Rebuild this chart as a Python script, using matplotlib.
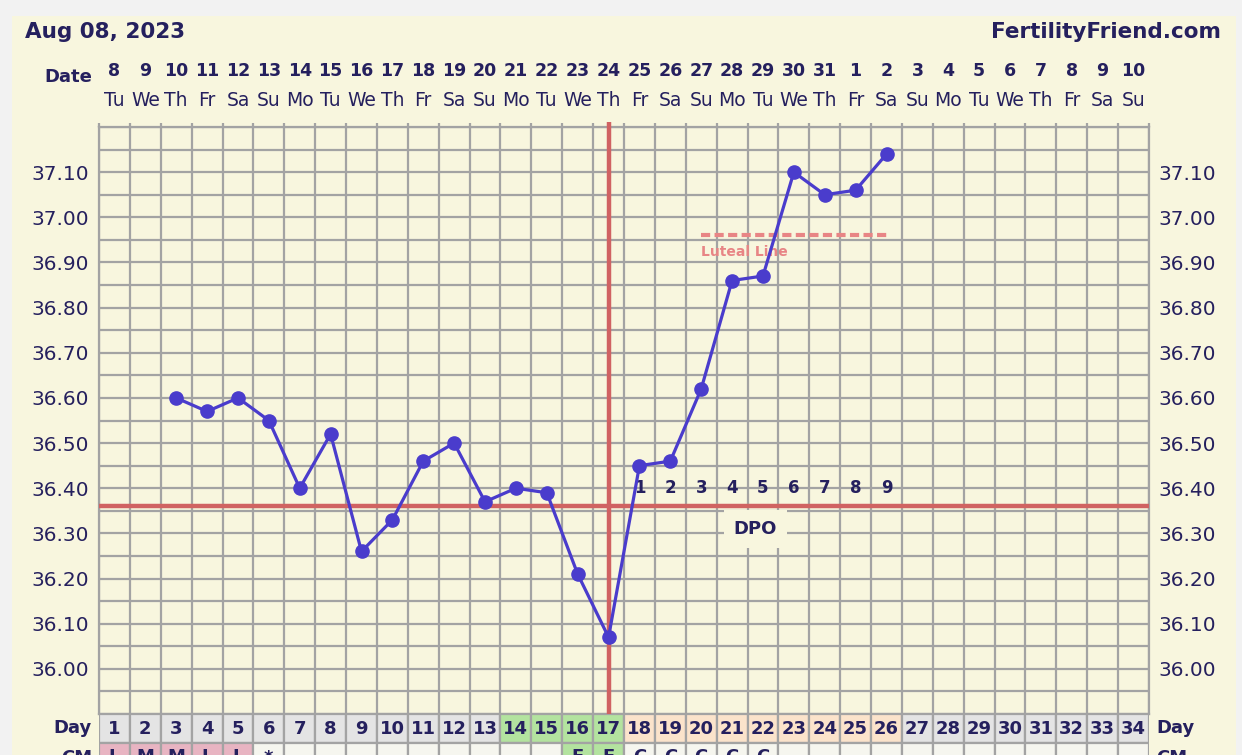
import numpy as np
import matplotlib
matplotlib.use("Agg")
import matplotlib.pyplot as plt
from matplotlib.patches import Rectangle
from matplotlib import transforms

# valores
cycle_days = list(range(1, 35))
dates = [8, 9, 10, 11, 12, 13, 14, 15, 16, 17, 18, 19, 20, 21, 22, 23, 24,
         25, 26, 27, 28, 29, 30, 31, 1, 2, 3, 4, 5, 6, 7, 8, 9, 10]
weekdays = ["Tu", "We", "Th", "Fr", "Sa", "Su", "Mo"] * 5
weekdays = weekdays[:34]
temp_days = list(range(3, 27))
temps = [36.60, 36.57, 36.60, 36.55, 36.40, 36.52, 36.26, 36.33, 36.46, 36.50,
         36.37, 36.40, 36.39, 36.21, 36.07, 36.45, 36.46, 36.62, 36.86, 36.87,
         37.10, 37.05, 37.06, 37.14]
coverline = 36.36
ovulation_day = 17
dpo_days = list(range(18, 27))
dpo_labels = [str(i) for i in range(1, 10)]
luteal_days = [20, 26]
luteal_temp = 36.96
fertile_days = [14, 15, 16, 17]
cm_labels = {1: "L", 2: "M", 3: "M", 4: "L", 5: "L", 6: "*", 16: "E", 17: "E",
             18: "C", 19: "C", 20: "C", 21: "C", 22: "C"}

W, H = 1242, 755
navy = "#25205e"
cream = "#f8f6de"
gridc = "#a3a3a3"
redc = "#d06262"
bluec = "#4a3ccc"

fig = plt.figure(figsize=(W / 100, H / 100), dpi=100, facecolor="#f2f2f2")
fig.add_artist(Rectangle((12 / W, 0), (1236 - 12) / W, (H - 16) / H,
                         transform=fig.transFigure, facecolor=cream, edgecolor="none", zorder=-10))

# eixo principal (pixels -> fracao da figura)
x0, x1 = 99, 1149
ytop, ybot = 127, 714
ax = fig.add_axes([x0 / W, (H - ybot) / H, (x1 - x0) / W, (ybot - ytop) / H])
ax.set_facecolor(cream)
ax.set_xlim(0.5, 34.5)
ax.set_ylim(35.90, 37.20)

ax.set_xticks(np.arange(0.5, 35, 1))
ax.set_xticklabels([])
ax.set_yticks(np.round(np.arange(36.0, 37.15, 0.1), 2))
ax.set_yticks(np.arange(35.90, 37.21, 0.05), minor=True)
ax.set_yticklabels(["%.2f" % v for v in ax.get_yticks()])
ax.grid(True, which="both", color=gridc, lw=1.6)
ax.tick_params(axis="y", which="both", length=0, pad=7, labelsize=14.5,
               labelcolor=navy, labelright=True)
ax.tick_params(axis="x", length=3, width=1.6, color=gridc, top=True, bottom=False,
               direction="out")
for s in ax.spines.values():
    s.set_color(gridc)
    s.set_linewidth(1.6)
ax.set_axisbelow(True)

# linhas vermelhas
ax.axhline(coverline, color=redc, lw=3.2, zorder=3)
ax.plot([ovulation_day, ovulation_day], [35.90, 37.21], color=redc, lw=3.2,
        zorder=3, clip_on=False, solid_capstyle="butt")

# luteal line
ax.plot(luteal_days, [luteal_temp, luteal_temp], color="#e88585", lw=3,
        ls=(0, (2.2, 1.05)), zorder=3)
ax.text(luteal_days[0], luteal_temp - 0.037, "Luteal Line", color="#e88585",
        fontsize=10, fontweight="bold", ha="left", va="center")

# temperaturas
ax.plot(temp_days, temps, color=bluec, lw=2.3, marker="o", ms=9.5, zorder=5)

# DPO
for d, lab in zip(dpo_days, dpo_labels):
    ax.text(d, coverline + 0.04, lab, color=navy, fontsize=12, fontweight="bold",
            ha="center", va="center", zorder=4)
ax.text(21.75, 36.31, "DPO", color=navy, fontsize=13, fontweight="bold",
        ha="center", va="center", zorder=4,
        bbox=dict(facecolor=cream, edgecolor="none", pad=7))

# cabecalho
tr = transforms.blended_transform_factory(ax.transData, fig.transFigure)
fy = lambda p: (H - p) / H
fig.text(25 / W, fy(32), "Aug 08, 2023", color=navy, fontsize=15.5,
         fontweight="bold", ha="left", va="center")
fig.text(1221 / W, fy(32), "FertilityFriend.com", color=navy, fontsize=15.5,
         fontweight="bold", ha="right", va="center")
fig.text(92 / W, fy(77), "Date", color=navy, fontsize=13, fontweight="bold",
         ha="right", va="center")
for d, dt, wd in zip(cycle_days, dates, weekdays):
    ax.text(d, fy(71), str(dt), transform=tr, color=navy, fontsize=12.5,
            fontweight="bold", ha="center", va="center")
    ax.text(d, fy(101), wd, transform=tr, color=navy, fontsize=13.5,
            ha="center", va="center")

# linhas Day / CM
ax2 = fig.add_axes([x0 / W, (H - 772) / H, (x1 - x0) / W, (772 - ybot) / H])
ax2.set_zorder(3)
ax2.set_xlim(0.5, 34.5)
ax2.set_ylim(0, 2)
ax2.axis("off")
day_colors = []
cm_colors = []
for d in cycle_days:
    if d in fertile_days:
        day_colors.append("#b3e39f")
    elif dpo_days[0] <= d <= dpo_days[-1]:
        day_colors.append("#fbe3cb")
    else:
        day_colors.append("#e4e4e4")
    if d <= 5:
        cm_colors.append("#e8b4c2")
    elif d in (16, 17):
        cm_colors.append("#b3e39f")
    else:
        cm_colors.append("#f6f6ef")
ax2.bar(cycle_days, 1, bottom=1, width=1, color=day_colors, edgecolor=gridc, lw=1.6)
ax2.bar(cycle_days, 1, bottom=0, width=1, color=cm_colors, edgecolor=gridc, lw=1.6)
for d in cycle_days:
    ax2.text(d, 1.5, str(d), color=navy, fontsize=13, fontweight="bold",
             ha="center", va="center")
    if d in cm_labels:
        ax2.text(d, 0.5, cm_labels[d], color=navy, fontsize=13, fontweight="bold",
                 ha="center", va="center")
fig.text(92 / W, fy(728), "Day", color=navy, fontsize=13, fontweight="bold",
         ha="right", va="center")
fig.text(1156 / W, fy(728), "Day", color=navy, fontsize=13, fontweight="bold",
         ha="left", va="center")
fig.text(92 / W, fy(758), "CM", color=navy, fontsize=13, fontweight="bold",
         ha="right", va="center")
fig.text(1156 / W, fy(758), "CM", color=navy, fontsize=13, fontweight="bold",
         ha="left", va="center")

fig.savefig("out.png", dpi=100, facecolor=fig.get_facecolor())
